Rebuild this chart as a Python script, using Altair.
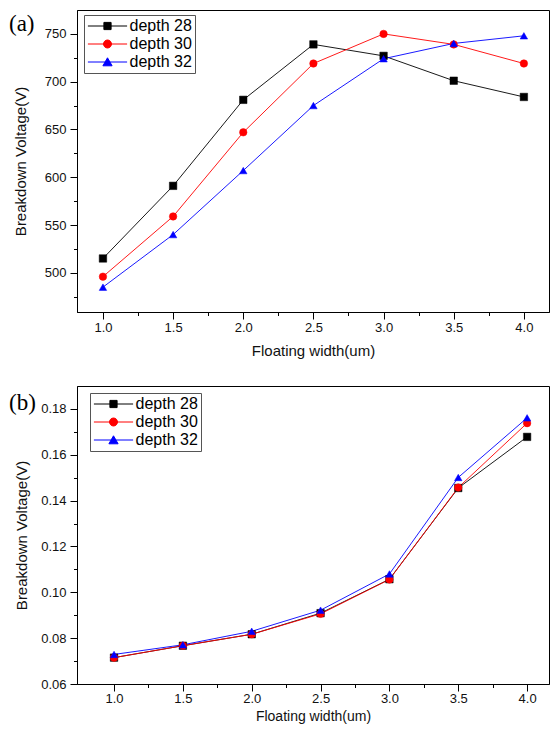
import altair as alt
import pandas as pd

# ---------------- data ----------------
widths = [1.0, 1.5, 2.0, 2.5, 3.0, 3.5, 4.0]
series_names = ["depth 28", "depth 30", "depth 32"]

bv_a_d28 = [515, 591, 681, 739, 727, 701, 684]
bv_a_d30 = [496, 559, 647, 719, 750, 739, 719]
bv_a_d32 = [485, 540, 607, 675, 724, 740, 748]

bv_b_d28 = [0.0715, 0.0767, 0.0817, 0.0909, 0.1057, 0.1455, 0.1678]
bv_b_d30 = [0.0715, 0.0767, 0.0817, 0.0906, 0.1056, 0.1457, 0.1738]
bv_b_d32 = [0.0729, 0.0771, 0.0830, 0.0922, 0.1080, 0.1501, 0.1761]

panel_labels = ["(a)", "(b)"]
x_tick_values = [1.0, 1.25, 1.5, 1.75, 2.0, 2.25, 2.5, 2.75, 3.0, 3.25, 3.5, 3.75, 4.0]
ya_tick_values = [475, 500, 525, 550, 575, 600, 625, 650, 675, 700, 725, 750]
yb_tick_values = [0.06, 0.07, 0.08, 0.09, 0.10, 0.11, 0.12, 0.13, 0.14, 0.15, 0.16, 0.17, 0.18]

colors = ["#000000", "#ff0000", "#0000ff"]
shapes = ["square", "circle", "triangle-up"]
legend_paths = [
    "M-4.9,0H4.9M-0.9,-0.9H0.9V0.9H-0.9Z",
    "M-4.9,0H4.9M-1,0A1,1,0,1,1,1,0A1,1,0,1,1,-1,0Z",
    "M-4.9,0H4.9M0,-1.05L1.15,0.95H-1.15Z",
]


def long_df(vals):
    rows = []
    for name, ys in zip(series_names, vals):
        for x, y in zip(widths, ys):
            rows.append({"w": x, "v": y, "series": name})
    return pd.DataFrame(rows)


df_a = long_df([bv_a_d28, bv_a_d30, bv_a_d32])
df_b = long_df([bv_b_d28, bv_b_d30, bv_b_d32])

shape_expr = (
    f"datum.value === '{series_names[0]}' ? '{legend_paths[0]}' : "
    f"datum.value === '{series_names[1]}' ? '{legend_paths[1]}' : '{legend_paths[2]}'"
)


def make_legend(lx, ly):
    return alt.Legend(
        title=None,
        orient="none",
        legendX=lx,
        legendY=ly,
        padding=3,
        strokeColor="#555555",
        fillColor="white",
        labelFont="Liberation Sans",
        labelFontSize=16,
        labelColor="black",
        symbolSize=64,
        symbolOffset=12.5,
        labelOffset=14,
        rowPadding=2,
        symbolStrokeWidth=1,
        symbolOpacity=1,
        symbolType={"expr": shape_expr},
    )


def panel(df, label, label_x, label_y, x_dom, y_dom, y_vals, y_major, y_fmt,
          y_title_pad, x_lab_pad, x_title_pad, x_title_size, lx, ly, w, h):
    x_major = "abs(datum.value*2 - round(datum.value*2)) < 0.001"
    x_axis = alt.Axis(
        title="Floating width(um)",
        values=x_tick_values,
        labelExpr=f"({x_major}) ? format(datum.value, '.1f') : ''",
        tickSize={"condition": {"test": x_major, "value": 7}, "value": 3.5},
        labelPadding=x_lab_pad,
        titlePadding=x_title_pad,
        titleFontSize=x_title_size,
        labelOverlap=False,
        labelFlush=False,
        grid=False,
    )
    y_axis = alt.Axis(
        title="Breakdown Voltage(V)",
        values=y_vals,
        labelExpr=f"({y_major}) ? format(datum.value, '{y_fmt}') : ''",
        tickSize={"condition": {"test": y_major, "value": 7}, "value": 3.5},
        labelPadding=4,
        titlePadding=y_title_pad,
        labelOverlap=False,
        labelFlush=False,
        grid=False,
    )
    x_enc = alt.X("w:Q", scale=alt.Scale(domain=x_dom, nice=False, zero=False), axis=x_axis)
    y_enc = alt.Y("v:Q", scale=alt.Scale(domain=y_dom, nice=False, zero=False), axis=y_axis)
    leg = make_legend(lx, ly)
    col_scale = alt.Scale(domain=series_names, range=colors)
    lines = alt.Chart(df).mark_line(strokeWidth=0.9).encode(
        x=x_enc, y=y_enc,
        stroke=alt.Stroke("series:N", scale=col_scale, legend=leg),
    )
    layers = [lines]
    for name, shp in zip(series_names, shapes):
        layers.append(
            alt.Chart(df)
            .transform_filter(alt.datum.series == name)
            .mark_point(filled=True, shape=shp, size=56, opacity=1, strokeWidth=0.5)
            .encode(
                x=x_enc, y=y_enc,
                fill=alt.Fill("series:N", scale=col_scale, legend=leg),
                stroke=alt.Stroke("series:N", scale=col_scale, legend=leg),
            )
        )
    lab = alt.Chart(pd.DataFrame({"t": [label]})).mark_text(
        font="Liberation Serif", fontSize=23, color="black", align="left", baseline="top",
    ).encode(x=alt.value(label_x), y=alt.value(label_y), text="t:N")
    layers.append(lab)
    return alt.layer(*layers).properties(width=w, height=h)


panel_a = panel(df_a, panel_labels[0], -68, 3, [0.815, 4.179], [459, 775], ya_tick_values,
                "datum.value % 50 == 0", "d", 15.5, 2, 9, 15, 7, 5, 472, 302)
panel_b = panel(df_b, panel_labels[1], -68, 6, [0.731, 4.159], [0.06, 0.19], yb_tick_values,
                "abs(datum.value*50 - round(datum.value*50)) < 0.001", ".2f", 11.5, 1, 4, 14, 13, 7, 472, 298)

chart = (
    alt.vconcat(panel_a, panel_b, spacing=26)
    .resolve_scale(fill="independent", stroke="independent",
                   x="independent", y="independent")
    .properties(padding={"left": 0, "top": 1, "right": 0, "bottom": 0})
    .configure_view(stroke="black", strokeWidth=1)
    .configure_axis(
        domainColor="black",
        domainWidth=1,
        tickColor="black",
        tickWidth=1,
        labelFont="Liberation Sans",
        labelFontSize=13,
        labelColor="#111111",
        titleFont="Liberation Sans",
        titleFontSize=15,
        titleFontWeight="normal",
        titleColor="#111111",
    )
)

chart.save("out.html", embed_options={"renderer": "svg", "actions": False})
